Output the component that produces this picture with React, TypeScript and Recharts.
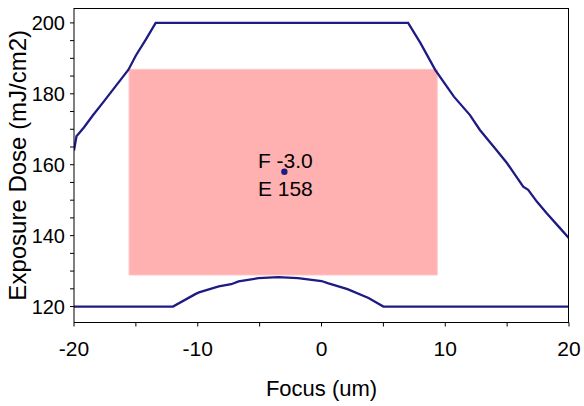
import React from 'react';
import {
  ComposedChart,
  Line,
  Scatter,
  XAxis,
  YAxis,
  ReferenceArea,
} from 'recharts';

// process window edges
const upperFocus = [-20, -19.8, -19.2, -18.5, -17.6, -16.6, -15.6, -15.0, -14.2, -13.4, 7.0, 8.0, 9.2, 10.7, 12.0, 12.8, 14.0, 15.0, 16.3, 16.7, 17.4, 18.2, 19.2, 20];
const upperDose = [164, 168, 170.5, 173.8, 177.8, 182.3, 186.8, 190.8, 195.3, 200, 200, 194.3, 186.7, 179.2, 174, 169.8, 164.7, 160.4, 153.8, 152.9, 149.6, 146.3, 142.4, 139.3];

const lowerFocus = [-20, -12.0, -10.2, -9.9, -8.3, -7.3, -6.7, -5.1, -3.5, -1.9, 0, 0.5, 2.1, 3.8, 5.0, 20];
const lowerDose = [120, 120, 123.5, 124.0, 125.7, 126.3, 127.1, 128.0, 128.3, 128.0, 127.2, 126.6, 124.9, 122.4, 120, 120];

// best window (rectangle) and its centre
const windowFocus = [-15.55, 9.35];
const windowDose = [128.9, 186.9];
const centre = [{ x: -3.0, y: 158 }];

const focusRange = [-20, 20];
const doseRange = [115.5, 204.2];
const focusTicks = [-20, -15, -10, -5, 0, 5, 10, 15, 20];
const doseTicks = [120, 125, 130, 135, 140, 145, 150, 155, 160, 165, 170, 175, 180, 185, 190, 195, 200];

const upperData = upperFocus.map((x, i) => ({ x, y: upperDose[i] }));
const lowerData = lowerFocus.map((x, i) => ({ x, y: lowerDose[i] }));

const FONT = '"Liberation Sans", Arial, sans-serif';
const NAVY = '#1e1b84';

const W = 584;
const H = 406;
const MARGIN = { top: 8, right: 15, bottom: 0, left: 0 };
const Y_AXIS_W = 74;
const X_AXIS_H = 83.5;

const CentreMark = (props: any) => {
  const { cx, cy, payload } = props;
  return (
    <g>
      <circle cx={cx} cy={cy} r={3.2} fill={NAVY} />
      <text x={cx + 1} y={cy - 4} textAnchor="middle" fontSize={21} fontFamily={FONT} fill="#000">
        {`F ${payload.x.toFixed(1)}`}
      </text>
      <text x={cx + 1} y={cy + 24} textAnchor="middle" fontSize={21} fontFamily={FONT} fill="#000">
        {`E ${payload.y}`}
      </text>
    </g>
  );
};

const App: React.FC = () => {
  return (
    <div style={{ position: 'absolute', left: 0, top: 0, width: W, height: H, fontFamily: FONT }}>
      <ComposedChart width={W} height={H} margin={MARGIN}>
        <XAxis
          type="number"
          dataKey="x"
          domain={focusRange}
          ticks={focusTicks}
          tickFormatter={(v: number) => (v % 10 === 0 ? String(v) : '')}
          allowDataOverflow
          height={X_AXIS_H}
          tickSize={4}
          tickMargin={15}
          tick={{ fontSize: 21, fill: '#000', fontFamily: FONT }}
          axisLine={{ stroke: '#000' }}
          tickLine={{ stroke: '#000' }}
          label={{ value: 'Focus (um)', position: 'insideBottom', offset: 10, fontSize: 22, fill: '#000', fontFamily: FONT }}
        />
        <YAxis
          type="number"
          dataKey="y"
          domain={doseRange}
          ticks={doseTicks}
          tickFormatter={(v: number) => (v % 20 === 0 ? String(v) : '')}
          allowDataOverflow
          width={Y_AXIS_W}
          tickSize={4}
          tickMargin={5}
          tick={{ fontSize: 20, fill: '#000', fontFamily: FONT }}
          axisLine={{ stroke: '#000' }}
          tickLine={{ stroke: '#000' }}
          label={{
            value: 'Exposure Dose (mJ/cm2)',
            angle: -90,
            position: 'insideLeft',
            offset: 17,
            fontSize: 24,
            fill: '#000',
            fontFamily: FONT,
            style: { textAnchor: 'middle' },
          }}
        />
        <ReferenceArea
          x1={windowFocus[0]}
          x2={windowFocus[1]}
          y1={windowDose[0]}
          y2={windowDose[1]}
          fill="#ffb0b0"
          fillOpacity={1}
          stroke="#ffc4c4"
        />
        <Line
          data={upperData}
          dataKey="y"
          type="linear"
          stroke={NAVY}
          strokeWidth={2.3}
          dot={false}
          isAnimationActive={false}
        />
        <Line
          data={lowerData}
          dataKey="y"
          type="linear"
          stroke={NAVY}
          strokeWidth={2.3}
          dot={false}
          isAnimationActive={false}
        />
        <Scatter data={centre} dataKey="y" shape={CentreMark} isAnimationActive={false} />
      </ComposedChart>
      {/* top and right edges of the plot box */}
      <div
        style={{
          position: 'absolute',
          left: MARGIN.left + Y_AXIS_W,
          top: MARGIN.top,
          width: W - MARGIN.left - MARGIN.right - Y_AXIS_W,
          height: H - MARGIN.top - MARGIN.bottom - X_AXIS_H,
          borderTop: '1px solid #000',
          borderRight: '1px solid #000',
          boxSizing: 'border-box',
          pointerEvents: 'none',
        }}
      />
    </div>
  );
};

export default App;
